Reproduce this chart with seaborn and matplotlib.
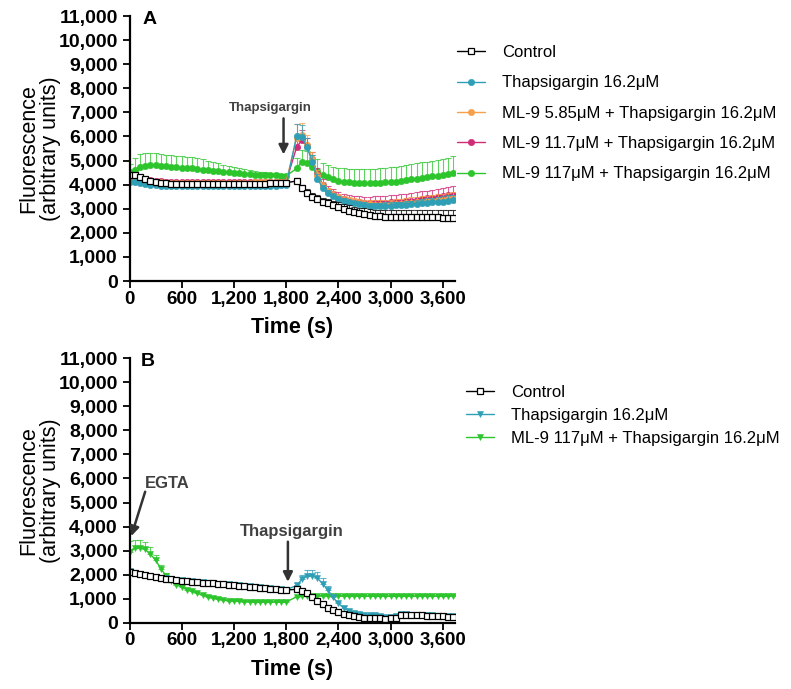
import numpy as np
import seaborn as sns
import matplotlib.pyplot as plt
from matplotlib.ticker import FuncFormatter, MultipleLocator

# time points (s): before and after thapsigargin addition
t_pre = list(range(0, 1801, 60))
t_post = list(range(1920, 3721, 60))
time = t_pre + t_post

# ---------------- Panel A (values in thousands) ----------------
a_control = [4.42, 4.40, 4.33, 4.24, 4.16, 4.10, 4.07, 4.05, 4.04, 4.03, 4.03, 4.03, 4.02, 4.02, 4.02, 4.02,
             4.02, 4.02, 4.02, 4.02, 4.02, 4.03, 4.03, 4.03, 4.03, 4.04, 4.04, 4.05, 4.05, 4.06, 4.08,
             4.15, 3.85, 3.66, 3.50, 3.39, 3.29, 3.22, 3.14, 3.06, 2.98, 2.92, 2.86, 2.81, 2.77, 2.73, 2.70,
             2.68, 2.67, 2.66, 2.66, 2.65, 2.65, 2.65, 2.64, 2.64, 2.64, 2.64, 2.64, 2.63, 2.63, 2.63]
a_control_sem = [0.10, 0.10, 0.08, 0.07, 0.06, 0.05, 0.05, 0.05, 0.05, 0.05, 0.05, 0.05, 0.05, 0.05, 0.05, 0.05,
                 0.05, 0.05, 0.05, 0.05, 0.05, 0.05, 0.05, 0.05, 0.05, 0.05, 0.05, 0.05, 0.05, 0.05, 0.06,
                 0.12, 0.15, 0.15, 0.15, 0.16, 0.17, 0.18, 0.19, 0.20, 0.21, 0.22, 0.23, 0.24, 0.25, 0.25, 0.26,
                 0.26, 0.27, 0.27, 0.28, 0.28, 0.28, 0.29, 0.29, 0.29, 0.30, 0.30, 0.30, 0.30, 0.30, 0.30]
a_thap = [4.12, 4.10, 4.08, 4.04, 4.00, 3.97, 3.95, 3.94, 3.93, 3.93, 3.93, 3.93, 3.93, 3.93, 3.94, 3.94,
          3.94, 3.94, 3.94, 3.94, 3.94, 3.94, 3.95, 3.95, 3.95, 3.95, 3.96, 3.96, 3.96, 3.97, 3.98,
          6.02, 5.98, 5.55, 4.95, 4.25, 3.85, 3.65, 3.52, 3.42, 3.33, 3.27, 3.22, 3.18, 3.15, 3.13, 3.12,
          3.12, 3.12, 3.13, 3.14, 3.15, 3.17, 3.18, 3.20, 3.22, 3.24, 3.26, 3.28, 3.30, 3.32, 3.35]
a_thap_sem = [0.06, 0.06, 0.05, 0.05, 0.05, 0.05, 0.05, 0.05, 0.05, 0.05, 0.05, 0.05, 0.05, 0.05, 0.05, 0.05,
              0.05, 0.05, 0.05, 0.05, 0.05, 0.05, 0.05, 0.05, 0.05, 0.05, 0.05, 0.05, 0.05, 0.05, 0.05,
              0.50, 0.50, 0.40, 0.30, 0.20, 0.15, 0.12, 0.11, 0.10, 0.10, 0.10, 0.11, 0.11, 0.12, 0.12, 0.13,
              0.13, 0.14, 0.14, 0.15, 0.15, 0.16, 0.16, 0.17, 0.18, 0.19, 0.20, 0.21, 0.22, 0.23, 0.24]
a_ml9_low = [4.30, 4.32, 4.28, 4.22, 4.16, 4.12, 4.10, 4.08, 4.08, 4.07, 4.07, 4.07, 4.07, 4.07, 4.07, 4.07,
             4.07, 4.07, 4.07, 4.07, 4.08, 4.08, 4.08, 4.08, 4.09, 4.09, 4.09, 4.10, 4.10, 4.10, 4.12,
             5.95, 6.05, 5.65, 5.05, 4.40, 3.95, 3.72, 3.58, 3.47, 3.38, 3.32, 3.27, 3.23, 3.20, 3.18, 3.17,
             3.17, 3.17, 3.18, 3.19, 3.21, 3.23, 3.25, 3.27, 3.29, 3.31, 3.33, 3.36, 3.38, 3.41, 3.44]
a_ml9_low_sem = [0.08, 0.08, 0.07, 0.06, 0.06, 0.05, 0.05, 0.05, 0.05, 0.05, 0.05, 0.05, 0.05, 0.05, 0.05, 0.05,
                 0.05, 0.05, 0.05, 0.05, 0.05, 0.05, 0.05, 0.05, 0.05, 0.05, 0.05, 0.05, 0.05, 0.05, 0.05,
                 0.55, 0.50, 0.40, 0.30, 0.22, 0.18, 0.16, 0.15, 0.15, 0.15, 0.16, 0.16, 0.17, 0.17, 0.18, 0.18,
                 0.19, 0.19, 0.20, 0.20, 0.21, 0.21, 0.22, 0.22, 0.23, 0.23, 0.24, 0.24, 0.25, 0.25, 0.26]
a_ml9_mid = [4.25, 4.30, 4.28, 4.24, 4.20, 4.16, 4.14, 4.12, 4.11, 4.10, 4.10, 4.10, 4.10, 4.10, 4.10, 4.10,
             4.10, 4.10, 4.10, 4.10, 4.11, 4.11, 4.11, 4.11, 4.11, 4.12, 4.12, 4.12, 4.12, 4.12, 4.13,
             5.55, 5.85, 5.60, 5.05, 4.45, 4.00, 3.75, 3.60, 3.48, 3.40, 3.34, 3.30, 3.27, 3.25, 3.24, 3.24,
             3.24, 3.25, 3.26, 3.28, 3.30, 3.32, 3.34, 3.37, 3.40, 3.43, 3.46, 3.49, 3.52, 3.55, 3.58]
a_ml9_mid_sem = [0.08, 0.08, 0.07, 0.06, 0.06, 0.05, 0.05, 0.05, 0.05, 0.05, 0.05, 0.05, 0.05, 0.05, 0.05, 0.05,
                 0.05, 0.05, 0.05, 0.05, 0.05, 0.05, 0.05, 0.05, 0.05, 0.05, 0.05, 0.05, 0.05, 0.05, 0.05,
                 0.40, 0.40, 0.35, 0.30, 0.25, 0.22, 0.20, 0.20, 0.20, 0.21, 0.22, 0.23, 0.24, 0.25, 0.26, 0.27,
                 0.28, 0.28, 0.29, 0.29, 0.30, 0.30, 0.31, 0.31, 0.32, 0.32, 0.33, 0.33, 0.34, 0.34, 0.35]
a_ml9_high = [4.52, 4.62, 4.72, 4.78, 4.81, 4.81, 4.79, 4.77, 4.74, 4.72, 4.70, 4.69, 4.67, 4.64, 4.62, 4.59,
              4.57, 4.55, 4.53, 4.51, 4.49, 4.47, 4.45, 4.43, 4.42, 4.41, 4.40, 4.39, 4.38, 4.37, 4.36,
              4.67, 4.95, 4.90, 4.75, 4.55, 4.40, 4.30, 4.22, 4.16, 4.12, 4.09, 4.07, 4.06, 4.05, 4.05, 4.06,
              4.07, 4.09, 4.11, 4.13, 4.16, 4.19, 4.22, 4.25, 4.28, 4.31, 4.34, 4.37, 4.40, 4.44, 4.50]
a_ml9_high_sem = [0.35, 0.50, 0.55, 0.52, 0.50, 0.49, 0.49, 0.48, 0.48, 0.47, 0.47, 0.46, 0.46, 0.45, 0.43, 0.40,
                  0.37, 0.33, 0.29, 0.26, 0.24, 0.22, 0.19, 0.17, 0.15, 0.13, 0.12, 0.11, 0.10, 0.09, 0.08,
                  0.45, 0.50, 0.50, 0.50, 0.50, 0.50, 0.52, 0.53, 0.54, 0.55, 0.56, 0.57, 0.58, 0.58, 0.58, 0.59,
                  0.60, 0.60, 0.61, 0.62, 0.62, 0.63, 0.63, 0.64, 0.64, 0.65, 0.65, 0.66, 0.66, 0.67, 0.67]

# ---------------- Panel B (values in thousands) ----------------
b_control = [2.12, 2.06, 2.02, 1.98, 1.94, 1.90, 1.86, 1.83, 1.80, 1.77, 1.75, 1.73, 1.71, 1.69, 1.67, 1.66,
             1.64, 1.62, 1.60, 1.58, 1.56, 1.54, 1.52, 1.50, 1.48, 1.46, 1.44, 1.42, 1.40, 1.38, 1.36,
             1.39, 1.33, 1.24, 1.08, 0.92, 0.76, 0.63, 0.52, 0.43, 0.36, 0.31, 0.27, 0.24, 0.21, 0.19, 0.20,
             0.18, 0.17, 0.18, 0.20, 0.34, 0.33, 0.32, 0.31, 0.30, 0.29, 0.28, 0.27, 0.26, 0.25, 0.24]
b_control_sem = [0.05] * 31 + [0.08] * 31
b_thap = [2.15, 2.08, 2.03, 1.99, 1.95, 1.91, 1.87, 1.84, 1.81, 1.78, 1.76, 1.74, 1.72, 1.70, 1.68, 1.67,
          1.65, 1.63, 1.61, 1.59, 1.57, 1.55, 1.53, 1.51, 1.49, 1.47, 1.45, 1.43, 1.41, 1.39, 1.37,
          1.55, 1.80, 1.95, 1.95, 1.85, 1.62, 1.35, 1.05, 0.80, 0.62, 0.50, 0.42, 0.37, 0.34, 0.31, 0.30,
          0.27, 0.25, 0.24, 0.26, 0.36, 0.35, 0.34, 0.33, 0.32, 0.31, 0.30, 0.29, 0.28, 0.27, 0.26]
b_thap_sem = [0.05] * 31 + [0.10, 0.20, 0.25, 0.25, 0.25, 0.22, 0.18, 0.12, 0.08] + [0.06] * 22
b_ml9_high = [2.95, 3.10, 3.12, 3.05, 2.85, 2.60, 2.25, 1.95, 1.75, 1.58, 1.47, 1.38, 1.30, 1.22, 1.15, 1.08,
              1.02, 0.98, 0.94, 0.92, 0.90, 0.89, 0.88, 0.88, 0.87, 0.87, 0.86, 0.86, 0.86, 0.86, 0.86,
              1.08, 1.12, 1.12, 1.12, 1.11, 1.12, 1.12, 1.11, 1.11, 1.11, 1.11, 1.11, 1.11, 1.10, 1.10, 1.10,
              1.10, 1.10, 1.10, 1.10, 1.10, 1.10, 1.10, 1.10, 1.10, 1.10, 1.10, 1.10, 1.10, 1.10, 1.10]
b_ml9_high_sem = [0.45, 0.35, 0.33, 0.30, 0.30, 0.20, 0.15, 0.10] + [0.05] * 23 + [0.04] * 31

labels_a = ["Control", "Thapsigargin 16.2\u03bcM", "ML-9 5.85\u03bcM + Thapsigargin 16.2\u03bcM",
            "ML-9 11.7\u03bcM + Thapsigargin 16.2\u03bcM", "ML-9 117\u03bcM + Thapsigargin 16.2\u03bcM"]
labels_b = ["Control", "Thapsigargin 16.2\u03bcM", "ML-9 117\u03bcM + Thapsigargin 16.2\u03bcM"]

BLACK = "#000000"
TEAL = "#2f9fb6"
ORANGE = "#f5a04c"
MAGENTA = "#cf2b77"
GREEN = "#2cc52c"

sns.set_style("ticks")
plt.rcParams['font.family'] = ['Liberation Sans', 'DejaVu Sans']
plt.rcParams['text.color'] = 'black'
plt.rcParams['axes.labelcolor'] = 'black'
plt.rcParams['xtick.color'] = 'black'
plt.rcParams['ytick.color'] = 'black'

fig = plt.figure(figsize=(7.91, 6.89), dpi=100)
W, H = 791, 689
axA = fig.add_axes([129.5 / W, 1 - 281 / H, 325.5 / W, 265 / H])
axB = fig.add_axes([129.5 / W, 1 - 622.7 / H, 325.5 / W, 264.4 / H])


def draw_series(ax, values, sem, color, marker, label, open_marker=False):
    y = np.array(values) * 1000
    e = np.array(sem) * 1000
    # upper-only error bars (mean + SEM)
    ax.errorbar(time, y, yerr=[np.zeros_like(e), e], fmt='none', ecolor=color,
                elinewidth=0.8, capsize=2.2, capthick=0.8, alpha=0.75)
    sns.lineplot(x=time, y=y, ax=ax, color=color, linewidth=1.0, marker=marker,
                 markersize=4.6, markerfacecolor='white' if open_marker else color,
                 markeredgecolor=color, markeredgewidth=0.9 if open_marker else 0.4, legend=False)
    line = ax.lines[-1]
    line.set_label(label)
    return line


# Panel A, drawn back to front
hA = {}
hA[4] = draw_series(axA, a_ml9_high, a_ml9_high_sem, GREEN, 'o', labels_a[4])
hA[3] = draw_series(axA, a_ml9_mid, a_ml9_mid_sem, MAGENTA, 'o', labels_a[3])
hA[2] = draw_series(axA, a_ml9_low, a_ml9_low_sem, ORANGE, 'o', labels_a[2])
hA[1] = draw_series(axA, a_thap, a_thap_sem, TEAL, 'o', labels_a[1])
hA[0] = draw_series(axA, a_control, a_control_sem, BLACK, 's', labels_a[0], open_marker=True)

# Panel B
hB = {}
hB[2] = draw_series(axB, b_ml9_high, b_ml9_high_sem, GREEN, 'v', labels_b[2])
hB[1] = draw_series(axB, b_thap, b_thap_sem, TEAL, 'v', labels_b[1])
hB[0] = draw_series(axB, b_control, b_control_sem, BLACK, 's', labels_b[0], open_marker=True)

for ax in (axA, axB):
    ax.set_xlim(0, 3740)
    ax.set_ylim(0, 11000)
    ax.xaxis.set_major_locator(MultipleLocator(600))
    ax.yaxis.set_major_locator(MultipleLocator(1000))
    fmt = FuncFormatter(lambda v, p: f"{int(v):,}")
    ax.xaxis.set_major_formatter(fmt)
    ax.yaxis.set_major_formatter(fmt)
    ax.tick_params(axis='both', length=5, width=1.3, pad=2)
    ax.tick_params(axis='x', labelsize=13.5)
    ax.tick_params(axis='y', labelsize=14, pad=3.5)
    for lab in ax.get_xticklabels() + ax.get_yticklabels():
        lab.set_fontweight('bold')
    sns.despine(ax=ax)
    for s in ('left', 'bottom'):
        ax.spines[s].set_linewidth(1.6)
        ax.spines[s].set_color('black')
    ax.set_xlabel("Time (s)", fontsize=15.5, fontweight='bold', labelpad=7)
    ax.set_ylabel("Fluorescence\n(arbitrary units)", fontsize=15.5, linespacing=1.05)
    ax.yaxis.set_label_coords(-0.275, 0.5)
    ax.yaxis.label.set_verticalalignment('center')

# panel letters
fig.text(143 / W, 1 - 19 / H, "A", fontsize=14, fontweight='bold', ha='left', va='center')
fig.text(141 / W, 1 - 361 / H, "B", fontsize=14, fontweight='bold', ha='left', va='center')

# annotations
arrow = dict(arrowstyle='-|>', color='#333333', lw=1.8, mutation_scale=14, shrinkA=0, shrinkB=0)
axA.annotate("", xy=(1770, 5250), xytext=(1770, 6750), arrowprops=arrow)
axA.text(1620, 7180, "Thapsigargin", fontsize=9.5, fontweight='bold', color='#404040', ha='center', va='center')
axB.annotate("", xy=(20, 3600), xytext=(180, 5450), arrowprops=arrow)
axB.text(430, 5810, "EGTA", fontsize=12, fontweight='bold', color='#404040', ha='center', va='center')
axB.annotate("", xy=(1820, 1700), xytext=(1820, 3370), arrowprops=arrow)
axB.text(1870, 3810, "Thapsigargin", fontsize=12, fontweight='bold', color='#404040', ha='center', va='center')

# legends
fig.legend(handles=[hA[i] for i in range(5)], loc='upper left', bbox_to_anchor=(457 / W, 1 - 45 / H),
           frameon=False, fontsize=12, handlelength=1.7, handletextpad=1.0, labelspacing=0.92,
           borderpad=0, borderaxespad=0)
fig.legend(handles=[hB[i] for i in range(3)], loc='upper left', bbox_to_anchor=(466 / W, 1 - 385 / H),
           frameon=False, fontsize=12, handlelength=1.7, handletextpad=1.0, labelspacing=0.47,
           borderpad=0, borderaxespad=0)

plt.savefig('out.png', dpi=100)
